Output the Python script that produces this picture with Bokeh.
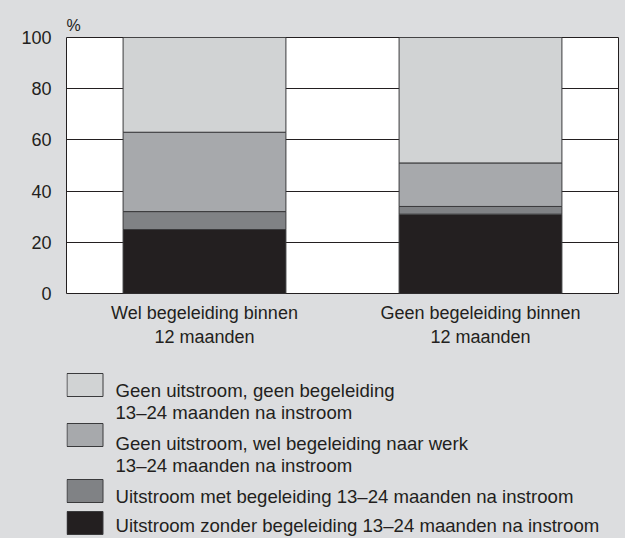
from bokeh.plotting import figure
from bokeh.models import Range1d, Title
from bokeh.layouts import column
from bokeh.embed import file_html
from bokeh.resources import INLINE
from bokeh.core.properties import value

# ---------------- data ----------------
categories = ["Wel begeleiding binnen\n12 maanden", "Geen begeleiding binnen\n12 maanden"]
series_names = [
    "Uitstroom zonder begeleiding 13\u201324 maanden na instroom",
    "Uitstroom met begeleiding 13\u201324 maanden na instroom",
    "Geen uitstroom, wel begeleiding naar werk\n13\u201324 maanden na instroom",
    "Geen uitstroom, geen begeleiding\n13\u201324 maanden na instroom",
]
uitstroom_zonder = [25, 31]
uitstroom_met = [7, 3]
geen_uitstroom_wel = [31, 17]
geen_uitstroom_geen = [37, 49]
y_ticks = [0, 20, 40, 60, 80, 100]

colors = ["#231f20", "#808285", "#a7a9ac", "#d1d3d4"]
BG = "#dcdddf"
INK = "#231f20"
FONT = "Liberation Sans"

# ---------------- main chart ----------------
p = figure(x_range=categories, y_range=Range1d(0, 100), width=625, height=362,
           output_backend="svg", toolbar_location=None,
           min_border_left=66, min_border_right=7, min_border_top=37, min_border_bottom=69)
p.border_fill_color = BG
p.background_fill_color = "white"
p.outline_line_color = INK
p.outline_line_width = 1

source = dict(cat=categories, s0=uitstroom_zonder, s1=uitstroom_met,
              s2=geen_uitstroom_wel, s3=geen_uitstroom_geen)
p.vbar_stack(["s0", "s1", "s2", "s3"], x="cat", width=0.59, source=source,
             fill_color=colors, line_color="#3a3a3c", line_width=1)

p.xgrid.grid_line_color = None
p.ygrid.grid_line_color = INK
p.ygrid.grid_line_width = 1
p.yaxis.ticker = y_ticks

for ax in (p.xaxis[0], p.yaxis[0]):
    ax.axis_line_color = None
    ax.major_tick_line_color = None
    ax.minor_tick_line_color = None
    ax.major_tick_out = 0
    ax.major_tick_in = 0
    ax.major_label_text_font = FONT
    ax.major_label_text_font_size = "18px"
    ax.major_label_text_color = INK
p.yaxis.major_label_standoff = 15
p.xaxis.major_label_standoff = 9
p.x_range.range_padding = 0

p.title = Title(text="%", text_font=FONT, text_font_size="16px", text_font_style="normal",
                text_color=INK, align="left", standoff=7)

# ---------------- legend panel ----------------
# frame aligned with the chart frame: x maps page px 74..626, y page px 370..546
lg = figure(width=625, height=176, output_backend="svg", toolbar_location=None,
            x_range=Range1d(74, 626), y_range=Range1d(546, 370),
            min_border_left=66, min_border_right=7, min_border_top=0, min_border_bottom=0)
lg.axis.visible = False
lg.grid.visible = False
lg.outline_line_color = None
lg.background_fill_color = BG
lg.border_fill_color = BG

order = [3, 2, 1, 0]
box_tops = [381, 431, 487, 519]
box_h = 23
line_first = [397.5, 450.5, 504, 533]
line_gap = 22.5
box_l, box_r, text_x = 74.5, 110.5, 123

lg.quad(left=[box_l] * 4, right=[box_r] * 4, top=box_tops,
        bottom=[t + box_h for t in box_tops], fill_color=[colors[i] for i in order],
        line_color="#3a3a3c", line_width=1)

tx, ty, tt = [], [], []
for k, i in enumerate(order):
    for j, line in enumerate(series_names[i].split("\n")):
        tx.append(text_x)
        ty.append(line_first[k] + j * line_gap)
        tt.append(line)
lg.text(x=tx, y=ty, text=tt, text_font=value(FONT), text_font_size="18.6px",
        text_color=INK, text_baseline="middle", text_align="left")

layout = column(p, lg, spacing=0, styles={"background-color": BG})
open("out.html", "w").write(file_html(layout, INLINE))
